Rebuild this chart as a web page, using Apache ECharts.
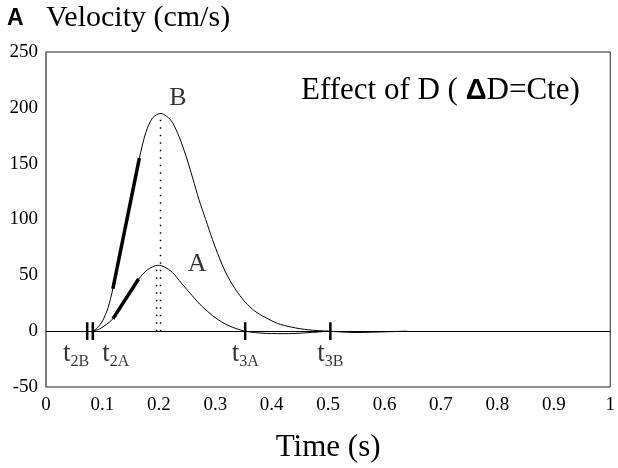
<!DOCTYPE html>
<html>
<head>
<meta charset="utf-8">
<script src="https://cdn.jsdelivr.net/npm/echarts@6/dist/echarts.min.js"></script>
<style>
html,body{margin:0;padding:0;background:#fff;}
#c{width:618px;height:468px;}
</style>
</head>
<body>
<div id="c"></div>
<script>
// ---- data ----
var timeB = [0.083, 0.09, 0.1, 0.11, 0.1185, 0.13, 0.14, 0.153, 0.1655, 0.177, 0.189, 0.2037, 0.215, 0.224, 0.236, 0.248, 0.26, 0.271, 0.283, 0.295, 0.307, 0.318, 0.335, 0.353, 0.37, 0.388, 0.41, 0.435, 0.465, 0.5, 0.55, 0.6, 0.64];
var velB  = [0, 2.5, 9, 21, 38, 64, 92, 125, 155, 178, 191, 195, 192, 187, 174, 157, 137, 118, 100, 82, 66, 53, 38, 26, 18, 12.5, 7, 3.6, 1.2, 0, -1.2, -0.6, 0];
var timeA = [0.083, 0.095, 0.107, 0.1185, 0.13, 0.14, 0.152, 0.164, 0.18, 0.198, 0.21, 0.224, 0.24, 0.259, 0.277, 0.295, 0.312, 0.33, 0.353, 0.39, 0.43, 0.47, 0.5];
var velA  = [0, 2, 6, 11, 19, 28, 38, 46.7, 55, 59, 57.5, 52.6, 43, 31.8, 22, 14, 8, 3.6, 0, -2, -2.2, -1.2, 0];
// thick slope segments
var slopeTimeB = [0.1185, 0.1655];
var slopeVelB  = [38, 155];
var slopeTimeA = [0.1185, 0.164];
var slopeVelA  = [11, 46.7];
// peak drop lines
var peakTimeA = 0.196, peakVelA = 59;
var peakTimeB = 0.203, peakVelB = 195;
// event ticks on the zero line
var eventNames = ['2B', '2A', '3A', '3B'];
var eventTimes = [0.073, 0.083, 0.353, 0.504];
var eventHalf = 8;
// curve labels
var curveLabelNames = ['B', 'A'];
var curveLabelTimes = [0.234, 0.268];
var curveLabelVels = [209, 60];
// axis ticks
var xTicks = [0, 0.1, 0.2, 0.3, 0.4, 0.5, 0.6, 0.7, 0.8, 0.9, 1];
var yTicks = [-50, 0, 50, 100, 150, 200, 250];

function zip(a, b) { return a.map(function (v, i) { return [v, b[i]]; }); }

var serif = '"Liberation Serif", "Times New Roman", serif';
var series = [];

series.push({ type: 'line', data: zip(timeB, velB), smooth: 0.3, showSymbol: false,
  lineStyle: { color: '#000', width: 1 }, z: 3,
  markLine: { silent: true, symbol: 'none', label: { show: false },
    lineStyle: { color: '#000', width: 1.2, type: 'solid' }, data: [{ yAxis: 0 }] } });
series.push({ type: 'line', data: zip(timeA, velA), smooth: 0.3, showSymbol: false,
  lineStyle: { color: '#000', width: 1 }, z: 3 });
series.push({ type: 'line', data: zip(slopeTimeB, slopeVelB), showSymbol: false,
  lineStyle: { color: '#000', width: 3.5 }, z: 4 });
series.push({ type: 'line', data: zip(slopeTimeA, slopeVelA), showSymbol: false,
  lineStyle: { color: '#000', width: 3.5 }, z: 4 });
series.push({ type: 'line', data: [[peakTimeA, 0], [peakTimeA, peakVelA]], showSymbol: false,
  lineStyle: { color: '#000', width: 1.5, type: [1.5, 6] }, z: 2 });
series.push({ type: 'line', data: [[peakTimeB, 0], [peakTimeB, peakVelB]], showSymbol: false,
  lineStyle: { color: '#000', width: 1.5, type: [1.5, 6] }, z: 2 });

eventTimes.forEach(function (t) {
  series.push({ type: 'line', data: [[t, -eventHalf], [t, eventHalf]], showSymbol: false,
    lineStyle: { color: '#000', width: 2.5 }, z: 5 });
});

var evOffsets = [[-11, 0], [23, 0], [0, 0], [0, 0]];
series.push({ type: 'scatter', symbolSize: 0, z: 6, silent: true,
  data: eventTimes.map(function (t, i) {
    return { value: [t, -eventHalf], name: eventNames[i],
      label: { offset: evOffsets[i] } };
  }),
  label: { show: true, position: 'bottom', distance: 3,
    formatter: function (p) { return '{t|t}{s|' + p.name + '}'; },
    rich: {
      t: { fontFamily: serif, fontSize: 27, color: '#000', lineHeight: 24, verticalAlign: 'bottom' },
      s: { fontFamily: serif, fontSize: 16, color: '#000', lineHeight: 24, verticalAlign: 'bottom', padding: [0, 0, -3, 0] }
    } } });

series.push({ type: 'scatter', symbolSize: 0, z: 6, silent: true,
  data: curveLabelNames.map(function (n, i) { return { value: [curveLabelTimes[i], curveLabelVels[i]], name: n }; }),
  label: { show: true, position: 'inside', formatter: '{b}', fontFamily: serif, fontSize: 26, color: '#000' } });

var chart = echarts.init(document.getElementById('c'), null, { renderer: 'canvas' });
chart.setOption({
  animation: false,
  backgroundColor: '#fff',
  grid: { left: 46, right: 4, top: 52, bottom: 80, show: true, borderColor: '#222', borderWidth: 1 },
  xAxis: { type: 'value', min: xTicks[0], max: xTicks[xTicks.length - 1], interval: 0.1,
    axisLine: { show: false }, axisTick: { show: false }, splitLine: { show: false },
    axisLabel: { fontFamily: serif, fontSize: 19, color: '#000', margin: 9 },
    name: 'Time (s)', nameLocation: 'middle', nameGap: 45,
    nameTextStyle: { fontFamily: serif, fontSize: 31, color: '#000' } },
  yAxis: { type: 'value', min: yTicks[0], max: yTicks[yTicks.length - 1], interval: 50,
    axisLine: { show: true, onZero: false, lineStyle: { color: '#777', width: 1.5 } },
    axisTick: { show: false }, splitLine: { show: false },
    axisLabel: { fontFamily: serif, fontSize: 19, color: '#000', margin: 8 } },
  graphic: [
    { type: 'text', left: 7, top: 7, style: { text: 'A', font: 'bold 23px "Liberation Sans", Arial, sans-serif', fill: '#000' } },
    { type: 'text', left: 46, top: 3, style: { text: 'Velocity (cm/s)', font: '30px ' + serif, fill: '#000' } },
    { type: 'text', left: 301, top: 75, style: {
      text: '{n|Effect of D ( }{d|Δ}{n|D=Cte)}',
      rich: { n: { font: '31px ' + serif, fill: '#000' }, d: { font: 'bold 29px "Liberation Sans", Arial, sans-serif', fill: '#000' } } } }
  ],
  series: series
});
</script>
</body>
</html>
